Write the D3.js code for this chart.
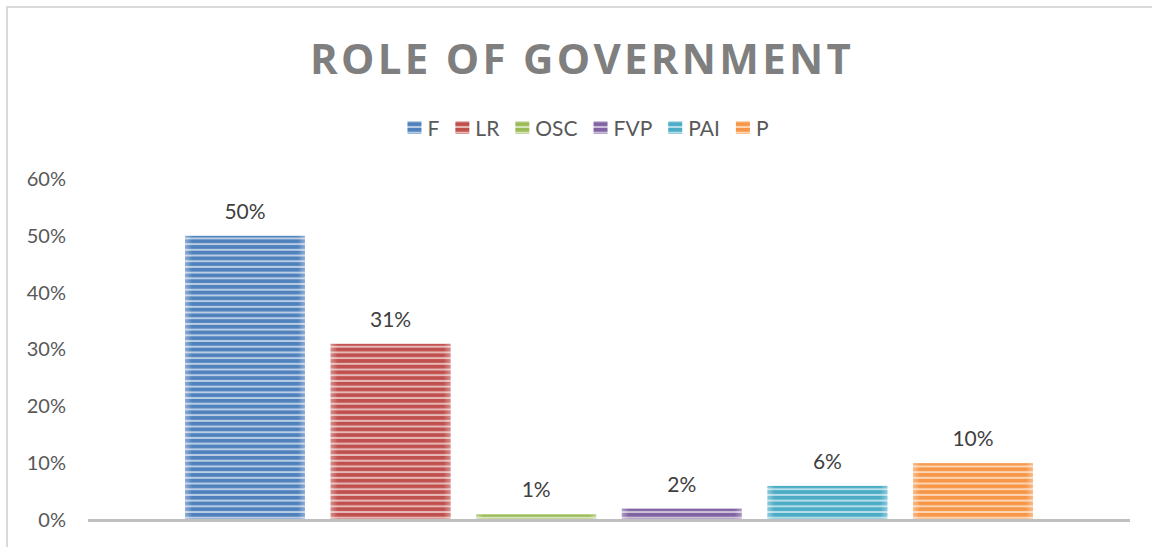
<!DOCTYPE html>
<html><head><meta charset="utf-8">
<script src="https://cdn.jsdelivr.net/npm/d3@7"></script>
<style>
html,body{margin:0;padding:0;background:#fff;}
svg{display:block;}
</style></head>
<body>
<svg id="chart" width="1152" height="547"></svg>
<script>
const title = "ROLE OF GOVERNMENT";
const series = ["F", "LR", "OSC", "FVP", "PAI", "P"];
const values = [0.50, 0.31, 0.01, 0.02, 0.06, 0.10];
const colors = ["#4f81bd", "#c0504d", "#9bbb59", "#8064a2", "#4bacc6", "#f79646"];
const yTicks = [0, 0.1, 0.2, 0.3, 0.4, 0.5, 0.6];

const svg = d3.select("#chart");
const defs = svg.append("defs");

// border of chart area
svg.append("rect").attr("x", 7).attr("y", 7).attr("width", 1160).attr("height", 560)
  .attr("fill", "#fff").attr("stroke", "#d9d9d9").attr("stroke-width", 2);

// stripe patterns
series.forEach((s, i) => {
  const p = defs.append("pattern").attr("id", "pat" + i)
    .attr("patternUnits", "userSpaceOnUse").attr("width", 10).attr("height", 5.7);
  p.append("rect").attr("width", 10).attr("height", 5.7).attr("fill", colors[i]);
  p.append("rect").attr("y", 3.7).attr("width", 10).attr("height", 2).attr("fill", "#fff").attr("fill-opacity", 0.6);
});
const g2 = defs.append("linearGradient").attr("id", "edge").attr("x1", 0).attr("x2", 1);
[[0,0.35],[0.06,0],[0.94,0],[1,0.35]].forEach(([o,a]) =>
  g2.append("stop").attr("offset", o).attr("stop-color", "#fff").attr("stop-opacity", a));

const x0 = 88, x1 = 1130;
const y = d3.scaleLinear().domain([0, 0.6]).range([520, 179]);
const x = d3.scaleBand().domain(series).range([172.2, 1045.8]).paddingInner(0.176).paddingOuter(0.088);

// title
svg.append("text").attr("x", 582).attr("y", 74).attr("text-anchor", "middle")
  .attr("font-family", "'Open Sans', sans-serif").attr("font-weight", 700).attr("font-size", 42)
  .attr("fill", "#7f7f7f").style("letter-spacing", "3.3px").text(title);

// legend
const leg = svg.append("g").attr("font-family", "Lato, sans-serif").attr("font-size", 21).attr("fill", "#595959");
let lx = 0;
series.forEach((s, i) => {
  const gi = leg.append("g").attr("transform", `translate(${lx},0)`);
  gi.append("rect").attr("x", 0).attr("y", -7).attr("width", 14).attr("height", 13).attr("fill", `url(#pat${i})`);
  const tx = gi.append("text").attr("x", 20).attr("y", 7.5).text(s);
  const w = tx.node().getComputedTextLength();
  lx += 20 + w + 16;
});
const legW = lx - 16;
leg.attr("transform", `translate(${588 - legW / 2},128)`);

// y axis labels
const ya = svg.append("g").attr("transform", `translate(66,0)`)
  .call(d3.axisLeft(y).tickValues(yTicks).tickFormat(d3.format(".0%")).tickSize(0).tickPadding(0));
ya.select(".domain").remove();
ya.selectAll("text").attr("font-family", "Lato, sans-serif").attr("font-size", 20).attr("fill", "#595959");

// bars
const bars = svg.append("g");
series.forEach((s, i) => {
  bars.append("rect").attr("x", x(s)).attr("y", y(values[i])).attr("width", x.bandwidth())
    .attr("height", y(0) - y(values[i])).attr("fill", `url(#pat${i})`);
  bars.append("rect").attr("x", x(s)).attr("y", y(values[i])).attr("width", x.bandwidth())
    .attr("height", y(0) - y(values[i])).attr("fill", "url(#edge)");
  bars.append("text").attr("x", x(s) + x.bandwidth() / 2).attr("y", y(values[i]) - 17)
    .attr("text-anchor", "middle").attr("font-family", "Lato, sans-serif").attr("font-size", 21)
    .attr("fill", "#404040").text(d3.format(".0%")(values[i]));
});

// baseline
svg.append("line").attr("x1", x0).attr("x2", x1).attr("y1", y(0) + 0.5).attr("y2", y(0) + 0.5)
  .attr("stroke", "#bfbfbf").attr("stroke-width", 3);
</script>
</body></html>
